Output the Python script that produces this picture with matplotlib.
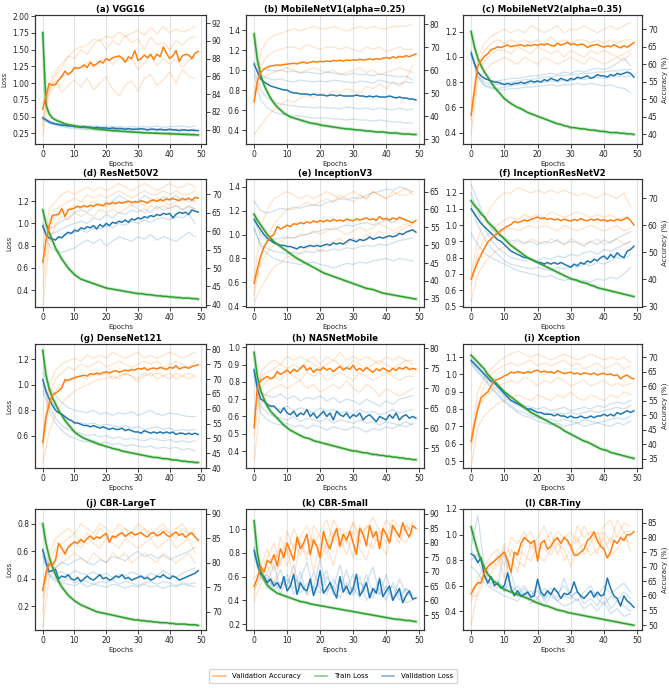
import numpy as np
import matplotlib.pyplot as plt
from matplotlib.lines import Line2D

ORANGE = '#ff7f0e'
GREEN = '#2ca02c'
BLUE = '#1f77b4'

# ---------------- (a) VGG16 ----------------
a_train = [1.75,0.68,0.54,0.48,0.45,0.43,0.41,0.39,0.38,0.37,0.36,0.35,0.345,0.34,0.335,0.33,0.32,0.315,0.31,0.305,
           0.30,0.295,0.29,0.287,0.284,0.28,0.277,0.274,0.27,0.267,0.264,0.26,0.258,0.256,0.254,0.252,0.25,0.248,0.246,0.244,
           0.242,0.24,0.238,0.236,0.234,0.232,0.23,0.228,0.226,0.225]
a_val_loss = [0.48,0.45,0.42,0.40,0.39,0.38,0.37,0.37,0.36,0.36,0.35,0.35,0.34,0.35,0.34,0.34,0.33,0.34,0.33,0.33,
              0.33,0.32,0.33,0.32,0.32,0.32,0.31,0.32,0.31,0.31,0.31,0.32,0.31,0.30,0.31,0.31,0.30,0.31,0.30,0.30,
              0.31,0.30,0.30,0.29,0.30,0.30,0.29,0.30,0.29,0.29]
a_val_acc = [82.3,83.8,85.2,85.0,85.1,85.6,86.0,86.6,86.2,86.5,87.0,86.9,87.0,87.3,87.0,87.6,87.2,87.4,87.7,87.5,
             88.0,87.8,88.1,88.2,88.3,88.1,87.6,88.2,88.0,88.9,87.8,88.0,88.4,88.1,88.5,87.9,88.5,88.2,89.3,88.6,
             88.0,88.3,88.9,87.7,88.3,88.5,88.4,88.0,88.6,88.8]
a_acc_runs = [
    [80.5,85.0,86.5,87.5,88.2,89.0,89.3,89.5,90.2,90.0,90.5,90.3,91.0,90.5,90.8,91.2,90.6,91.5,90.8,91.6,90.9,91.3,91.0,91.2,91.6],
    [81.0,84.5,86.0,87.0,88.3,88.0,89.0,88.5,89.6,90.2,89.0,90.0,89.5,90.6,89.8,90.2,89.0,90.4,89.6,89.8,89.0,90.0,89.5,90.2,90.5],
    [79.5,84.0,85.0,86.0,86.2,86.8,87.0,87.5,87.0,87.8,88.0,87.3,88.2,87.6,88.0,86.8,87.5,88.3,87.2,88.0,87.4,87.9,87.0,87.8,88.2],
    [83.0,84.5,85.5,84.2,85.0,85.6,84.8,85.8,84.5,85.2,86.0,84.6,83.8,85.0,85.5,84.3,85.8,86.2,85.0,85.6,86.5,85.2,86.8,86.0,85.8],
]
a_loss_runs = [
    [0.50,0.44,0.40,0.39,0.38,0.37,0.37,0.36,0.36,0.35,0.36,0.35,0.35,0.34,0.35,0.34,0.35,0.34,0.36,0.34,0.35,0.35,0.36,0.34,0.36],
    [0.47,0.41,0.38,0.36,0.35,0.34,0.33,0.33,0.32,0.32,0.32,0.31,0.31,0.31,0.30,0.31,0.30,0.30,0.30,0.29,0.30,0.29,0.29,0.29,0.30],
    [0.49,0.43,0.39,0.38,0.37,0.35,0.35,0.34,0.34,0.33,0.33,0.33,0.33,0.32,0.32,0.32,0.32,0.31,0.32,0.31,0.31,0.31,0.31,0.30,0.31],
    [0.46,0.40,0.37,0.35,0.33,0.32,0.31,0.30,0.30,0.29,0.29,0.28,0.28,0.27,0.27,0.27,0.26,0.26,0.26,0.25,0.26,0.25,0.25,0.25,0.25],
]

# ---------------- (b) MobileNetV1(alpha=0.25) ----------------
b_train = [1.36,1.10,0.95,0.85,0.78,0.72,0.67,0.63,0.60,0.57,0.55,0.53,0.52,0.51,0.50,0.49,0.48,0.47,0.465,0.46,
           0.45,0.445,0.44,0.435,0.43,0.425,0.42,0.415,0.41,0.41,0.405,0.40,0.40,0.395,0.39,0.39,0.385,0.38,0.38,0.38,
           0.375,0.37,0.37,0.37,0.365,0.36,0.36,0.36,0.355,0.355]
b_val_loss = [1.06,0.98,0.91,0.88,0.86,0.84,0.83,0.82,0.81,0.80,0.80,0.78,0.77,0.77,0.76,0.76,0.76,0.75,0.76,0.75,
              0.75,0.75,0.74,0.75,0.75,0.74,0.75,0.74,0.74,0.74,0.74,0.75,0.74,0.74,0.73,0.74,0.73,0.74,0.73,0.73,
              0.73,0.74,0.73,0.72,0.73,0.72,0.72,0.71,0.71,0.70]
b_val_acc = [46.3,55.0,59.0,60.5,61.3,61.8,62.0,62.3,62.0,62.5,62.6,62.8,63.0,62.7,63.2,63.5,63.0,63.4,63.8,63.5,
             63.8,63.6,64.0,63.7,64.2,64.0,64.3,63.9,64.4,64.2,64.5,64.3,64.7,64.4,64.6,64.9,64.5,65.0,64.7,65.2,
             65.5,65.0,65.8,65.3,66.0,65.6,66.3,65.8,66.5,67.0]
b_acc_runs = [
    [45,68,73,75,76,77,78,77,78,79,78,78,79,78,77,78,79,78,79,78,78,79,79,79,80],
    [50,62,66,68,69,70,70,69,71,70,69,70,70,69,70,69,68,70,69,70,68,69,70,69,69],
    [48,55,58,59,60,61,60,59,60,61,60,59,60,58,59,60,61,59,60,58,59,60,61,60,59],
    [32,36,40,43,45,47,46,48,49,48,50,49,51,50,52,51,50,53,52,54,52,55,53,56,62],
]
b_loss_runs = [
    [1.08,1.02,1.00,0.99,1.00,0.98,0.99,0.97,0.98,0.97,0.96,0.98,0.97,0.96,0.95,0.97,0.95,0.96,0.94,0.96,0.95,0.94,0.93,0.94,0.90],
    [1.05,0.95,0.92,0.90,0.91,0.89,0.88,0.90,0.89,0.88,0.89,0.88,0.90,0.89,0.88,0.87,0.89,0.88,0.87,0.90,0.88,0.87,0.86,0.88,0.87],
    [1.00,0.80,0.72,0.68,0.66,0.65,0.64,0.63,0.63,0.62,0.63,0.62,0.62,0.61,0.63,0.62,0.61,0.62,0.60,0.62,0.61,0.60,0.62,0.60,0.61],
    [0.95,0.70,0.62,0.58,0.56,0.55,0.54,0.54,0.53,0.52,0.52,0.52,0.51,0.51,0.50,0.51,0.50,0.50,0.49,0.50,0.49,0.48,0.48,0.47,0.47],
]

# ---------------- (c) MobileNetV2(alpha=0.35) ----------------
c_train = [1.20,1.08,0.99,0.93,0.88,0.84,0.80,0.76,0.73,0.70,0.67,0.65,0.63,0.615,0.60,0.59,0.575,0.56,0.55,0.54,
           0.53,0.52,0.51,0.50,0.49,0.48,0.47,0.465,0.455,0.45,0.44,0.44,0.435,0.43,0.43,0.425,0.42,0.42,0.415,0.41,
           0.41,0.405,0.40,0.40,0.40,0.395,0.395,0.39,0.39,0.385]
c_val_loss = [1.03,0.95,0.88,0.85,0.83,0.82,0.81,0.80,0.80,0.79,0.78,0.79,0.78,0.79,0.79,0.80,0.79,0.80,0.81,0.80,
              0.81,0.80,0.82,0.81,0.83,0.82,0.81,0.83,0.82,0.81,0.83,0.82,0.84,0.83,0.84,0.85,0.83,0.84,0.86,0.85,
              0.85,0.84,0.86,0.85,0.87,0.86,0.87,0.88,0.87,0.84]
c_val_acc = [45.5,52.5,59.5,61.0,62.3,63.0,64.2,64.5,65.0,64.8,65.2,65.5,65.0,65.3,65.4,65.6,65.2,65.5,65.3,65.7,
             65.4,65.8,65.5,65.9,65.4,65.2,66.0,65.5,65.8,66.3,65.6,65.9,65.4,65.8,65.6,64.8,65.3,65.5,65.7,65.2,
             64.9,65.3,65.0,65.6,65.1,64.7,65.3,64.9,65.5,66.2]
c_acc_runs = [
    [45,62,66,68,69,70,69,70,69,71,70,69,70,71,69,70,70,71,70,69,70,71,70,71,72],
    [48,60,64,66,67,66,67,66,67,66,67,66,68,66,67,66,67,67,66,67,66,67,66,67,67],
    [44,58,61,63,64,64,63,65,64,63,65,64,63,64,62,64,63,62,64,63,64,63,62,63,64],
    [40,55,58,60,61,62,61,60,62,61,60,62,61,60,61,62,61,60,62,61,60,61,62,61,63],
]
c_loss_runs = [
    [1.05,0.88,0.83,0.81,0.81,0.82,0.83,0.83,0.84,0.85,0.85,0.86,0.87,0.86,0.88,0.87,0.89,0.88,0.90,0.91,0.90,0.92,0.95,0.99,0.93],
    [1.02,0.86,0.80,0.78,0.78,0.79,0.80,0.81,0.82,0.82,0.83,0.84,0.84,0.85,0.85,0.86,0.86,0.87,0.87,0.88,0.88,0.89,0.89,0.90,0.90],
    [1.04,0.85,0.78,0.76,0.75,0.76,0.77,0.78,0.78,0.79,0.80,0.80,0.81,0.80,0.82,0.81,0.83,0.82,0.83,0.84,0.83,0.84,0.85,0.84,0.85],
    [1.01,0.84,0.77,0.75,0.74,0.74,0.75,0.75,0.76,0.76,0.77,0.77,0.78,0.77,0.78,0.78,0.79,0.78,0.79,0.78,0.77,0.78,0.76,0.75,0.72],
]

# ---------------- (d) ResNet50V2 ----------------
d_train = [1.12,1.00,0.92,0.85,0.78,0.73,0.68,0.64,0.60,0.57,0.54,0.52,0.50,0.49,0.48,0.47,0.46,0.45,0.44,0.43,
           0.42,0.415,0.41,0.405,0.40,0.395,0.39,0.385,0.38,0.375,0.37,0.37,0.365,0.36,0.36,0.355,0.35,0.35,0.345,0.345,
           0.34,0.34,0.335,0.335,0.33,0.33,0.33,0.325,0.325,0.32]
d_val_loss = [0.98,0.90,0.87,0.86,0.85,0.88,0.87,0.90,0.92,0.91,0.94,0.93,0.96,0.95,0.97,0.96,0.98,0.95,0.99,0.97,
              1.00,0.98,1.01,1.00,1.02,1.01,1.03,1.01,1.04,1.03,1.05,1.04,1.06,1.05,1.07,1.06,1.08,1.07,1.09,1.08,
              1.09,1.05,1.08,1.10,1.09,1.10,1.08,1.12,1.11,1.10]
d_val_acc = [51.6,57.5,61.3,64.2,64.5,64.6,66.2,64.0,65.8,66.0,66.3,66.8,66.5,67.0,66.6,67.0,66.8,67.3,67.1,66.9,
             67.6,67.4,67.8,67.5,67.9,67.6,67.9,68.2,67.8,68.1,67.9,68.3,68.0,67.7,68.3,68.5,68.1,68.6,68.3,68.8,
             68.5,68.9,68.6,68.3,68.9,68.6,69.0,68.4,69.2,69.0]
d_acc_runs = [
    [55,66,68,70,71,70,71,72,71,72,71,72,73,72,71,72,73,72,71,72,73,72,72,73,72],
    [50,63,66,67,68,69,68,70,69,70,69,70,71,70,69,70,71,70,70,71,70,71,70,70,71],
    [45,60,64,65,66,67,66,67,68,67,68,67,68,68,67,68,67,68,69,68,67,68,69,68,68],
    [40,56,62,64,63,65,64,65,64,66,65,66,65,66,67,66,65,67,66,67,66,67,66,67,66],
]
d_loss_runs = [
    [1.00,0.95,0.98,1.02,1.05,1.10,1.12,1.10,1.15,1.18,1.15,1.20,1.25,1.22,1.18,1.20,1.25,1.22,1.20,1.24,1.22,1.25,1.20,1.22,1.20],
    [0.98,0.90,0.92,0.95,0.98,1.00,1.02,1.00,1.05,1.03,1.08,1.05,1.10,1.08,1.12,1.10,1.13,1.10,1.15,1.12,1.14,1.16,1.12,1.15,1.13],
    [0.97,0.85,0.86,0.88,0.90,0.92,0.94,0.92,0.96,0.95,0.98,0.96,1.00,0.98,1.02,1.00,1.03,1.01,1.04,1.05,1.03,1.06,1.05,1.08,1.00],
    [0.96,0.80,0.75,0.74,0.76,0.78,0.82,0.85,0.82,0.86,0.80,0.84,0.88,0.86,0.84,0.88,0.86,0.90,0.85,0.88,0.86,0.84,0.88,0.92,0.88],
]

# ---------------- (e) InceptionV3 ----------------
e_train = [1.17,1.12,1.08,1.04,1.00,0.97,0.94,0.92,0.90,0.88,0.86,0.84,0.82,0.80,0.785,0.77,0.755,0.74,0.725,0.71,
           0.695,0.68,0.67,0.66,0.65,0.64,0.63,0.62,0.61,0.60,0.59,0.58,0.57,0.56,0.55,0.545,0.54,0.53,0.52,0.51,
           0.505,0.50,0.495,0.49,0.485,0.48,0.475,0.47,0.465,0.46]
e_val_loss = [1.13,1.08,1.04,1.00,0.97,0.95,0.93,0.92,0.91,0.91,0.90,0.90,0.89,0.88,0.90,0.89,0.90,0.91,0.90,0.91,
              0.90,0.91,0.92,0.91,0.93,0.92,0.93,0.92,0.94,0.96,0.95,0.94,0.96,0.95,0.96,0.98,0.96,0.97,0.98,0.97,
              0.98,0.99,0.98,0.99,1.01,1.00,1.02,1.03,1.04,1.02]
e_val_acc = [39.3,43.5,47.0,49.5,51.0,52.3,53.0,55.2,54.5,55.0,55.6,55.2,56.0,55.8,56.3,56.0,56.5,56.2,56.8,56.4,
             56.9,56.5,57.0,56.6,57.2,56.8,57.0,56.7,57.3,57.0,56.8,57.4,57.0,57.3,57.6,57.1,57.4,56.9,58.0,57.2,
             57.5,57.0,57.6,57.2,57.8,57.4,57.0,56.6,56.3,56.9]
e_acc_runs = [
    [40,55,60,63,64,65,64,63,64,63,64,65,64,63,64,65,64,63,65,64,63,65,64,64,65],
    [36,46,52,56,58,60,60,61,62,61,62,63,62,64,63,62,64,63,65,64,63,64,65,66,64],
    [38,45,48,50,51,52,52,53,53,54,53,54,55,54,53,54,55,54,55,56,55,54,55,56,55],
    [34,38,41,44,45,47,46,48,49,50,48,50,51,52,50,52,51,53,52,54,52,53,54,55,56],
]
e_loss_runs = [
    [1.28,1.20,1.18,1.20,1.22,1.21,1.23,1.22,1.24,1.25,1.24,1.27,1.28,1.30,1.29,1.31,1.30,1.33,1.35,1.36,1.38,1.37,1.40,1.38,1.36],
    [1.12,1.00,0.95,0.96,0.97,0.98,0.97,0.99,1.00,1.02,1.03,1.05,1.04,1.06,1.08,1.07,1.09,1.10,1.08,1.10,1.12,1.10,1.13,1.12,1.10],
    [1.06,0.92,0.88,0.86,0.85,0.84,0.85,0.84,0.86,0.85,0.87,0.86,0.88,0.87,0.89,0.88,0.90,0.91,0.90,0.92,0.91,0.93,0.95,0.96,0.97],
    [1.05,0.90,0.84,0.80,0.78,0.77,0.76,0.75,0.76,0.77,0.75,0.74,0.72,0.74,0.76,0.75,0.77,0.76,0.78,0.79,0.80,0.78,0.80,0.79,0.78],
]

# ---------------- (f) InceptionResNetV2 ----------------
f_train = [1.15,1.12,1.10,1.07,1.05,1.02,1.00,0.98,0.955,0.935,0.915,0.895,0.875,0.86,0.845,0.83,0.815,0.80,0.79,0.78,
           0.77,0.76,0.75,0.74,0.73,0.72,0.71,0.70,0.69,0.68,0.67,0.665,0.66,0.65,0.645,0.64,0.63,0.625,0.615,0.61,
           0.605,0.60,0.595,0.59,0.585,0.58,0.575,0.57,0.565,0.56]
f_val_loss = [1.10,1.07,1.04,1.01,0.99,0.97,0.95,0.93,0.91,0.90,0.88,0.86,0.84,0.83,0.82,0.81,0.80,0.80,0.79,0.78,
              0.77,0.77,0.76,0.77,0.76,0.77,0.76,0.77,0.76,0.75,0.74,0.76,0.75,0.77,0.76,0.78,0.77,0.79,0.78,0.80,
              0.81,0.79,0.82,0.80,0.83,0.81,0.80,0.84,0.85,0.87]
f_val_acc = [40.1,43.5,46.5,49.0,51.5,53.8,55.0,56.3,57.0,58.2,59.0,59.8,60.3,61.5,61.0,61.4,62.0,61.6,62.3,62.6,
             63.1,62.5,62.8,62.2,62.6,62.0,62.4,61.8,62.3,61.9,61.6,62.2,61.8,62.5,62.0,61.7,62.3,61.9,62.4,61.8,
             62.1,61.5,62.0,61.6,62.3,61.8,62.2,63.0,61.8,60.2]
f_acc_runs = [
    [42,55,62,67,70,72,72,74,73,72,73,72,73,72,73,72,71,72,71,70,72,71,70,72,67],
    [40,50,55,58,60,62,63,62,64,63,64,63,65,64,63,64,65,64,63,64,63,64,62,63,62],
    [38,48,52,55,57,58,59,58,59,60,59,60,59,58,60,59,58,59,60,59,58,59,60,58,59],
    [32,42,46,49,51,52,53,54,53,55,54,53,55,54,53,55,54,53,54,55,53,54,55,53,54],
]
f_loss_runs = [
    [1.25,1.15,1.05,0.98,0.94,0.92,0.90,0.91,0.89,0.90,0.88,0.90,0.89,0.91,0.88,0.90,0.89,0.87,0.90,0.88,0.91,0.89,0.92,0.94,0.96],
    [1.20,1.08,0.98,0.91,0.86,0.83,0.80,0.79,0.78,0.79,0.78,0.80,0.79,0.81,0.80,0.82,0.81,0.83,0.84,0.82,0.85,0.84,0.86,0.88,0.90],
    [1.12,1.00,0.92,0.86,0.82,0.78,0.76,0.75,0.74,0.73,0.74,0.73,0.72,0.74,0.73,0.75,0.74,0.76,0.75,0.77,0.76,0.78,0.80,0.79,0.82],
    [0.95,0.88,0.83,0.80,0.78,0.76,0.74,0.72,0.71,0.70,0.69,0.68,0.69,0.67,0.66,0.67,0.65,0.66,0.65,0.67,0.66,0.68,0.67,0.70,0.74],
]

# ---------------- (g) DenseNet121 ----------------
g_train = [1.27,1.08,0.97,0.90,0.85,0.80,0.76,0.72,0.69,0.66,0.63,0.61,0.595,0.58,0.57,0.56,0.55,0.54,0.53,0.525,
           0.515,0.51,0.50,0.495,0.49,0.48,0.475,0.47,0.465,0.46,0.455,0.45,0.445,0.44,0.435,0.43,0.43,0.425,0.42,0.42,
           0.415,0.41,0.41,0.405,0.40,0.40,0.395,0.395,0.39,0.39]
g_val_loss = [1.04,0.95,0.89,0.84,0.80,0.78,0.77,0.75,0.73,0.72,0.70,0.70,0.69,0.68,0.68,0.67,0.68,0.67,0.66,0.67,
              0.66,0.65,0.66,0.65,0.65,0.66,0.64,0.65,0.64,0.63,0.63,0.62,0.64,0.63,0.62,0.63,0.62,0.63,0.62,0.63,
              0.62,0.63,0.61,0.62,0.62,0.61,0.62,0.61,0.62,0.61]
g_val_acc = [48.7,57.0,61.5,64.5,65.2,66.0,67.0,69.8,69.5,70.0,70.5,70.8,71.0,71.3,71.0,71.8,71.5,72.0,71.7,72.2,
             72.4,72.0,72.5,72.8,72.3,72.6,73.0,72.7,73.2,73.0,73.6,73.3,73.8,73.0,73.5,73.7,73.4,73.9,73.6,73.2,
             74.0,73.6,74.5,73.4,73.8,74.0,73.6,74.2,74.5,74.8]
g_acc_runs = [
    [50,68,73,75,76,77,76,78,77,78,77,79,78,77,78,79,77,78,77,78,79,78,77,78,79],
    [48,64,70,72,74,73,75,74,75,76,74,75,76,75,74,75,76,75,76,74,75,76,75,74,76],
    [47,60,66,68,70,70,71,70,72,71,72,70,71,72,71,69,71,72,70,71,70,72,71,70,71],
    [42,52,58,62,64,66,67,68,69,70,70,71,70,72,71,70,72,71,72,71,72,70,71,72,71],
]
g_loss_runs = [
    [1.10,0.98,0.92,0.86,0.82,0.80,0.79,0.78,0.80,0.77,0.78,0.76,0.78,0.77,0.79,0.76,0.78,0.80,0.77,0.76,0.78,0.77,0.76,0.75,0.75],
    [1.05,0.90,0.82,0.76,0.73,0.71,0.70,0.69,0.70,0.68,0.69,0.68,0.67,0.68,0.66,0.67,0.65,0.66,0.67,0.65,0.66,0.64,0.65,0.64,0.65],
    [1.00,0.84,0.74,0.68,0.65,0.63,0.62,0.60,0.61,0.59,0.60,0.58,0.59,0.57,0.58,0.57,0.56,0.58,0.57,0.56,0.57,0.55,0.56,0.55,0.56],
    [0.96,0.80,0.70,0.64,0.60,0.58,0.56,0.55,0.56,0.54,0.55,0.53,0.54,0.52,0.53,0.52,0.51,0.52,0.50,0.51,0.50,0.51,0.49,0.50,0.48],
]

# ---------------- (h) NASNetMobile ----------------
h_train = [0.97,0.83,0.75,0.70,0.66,0.63,0.61,0.59,0.57,0.55,0.535,0.52,0.51,0.50,0.49,0.48,0.475,0.47,0.46,0.455,
           0.45,0.445,0.44,0.435,0.43,0.425,0.42,0.415,0.41,0.405,0.40,0.40,0.395,0.39,0.39,0.385,0.38,0.38,0.375,0.375,
           0.37,0.37,0.365,0.365,0.36,0.36,0.355,0.355,0.35,0.35]
h_val_loss = [0.87,0.76,0.70,0.69,0.67,0.66,0.66,0.64,0.62,0.65,0.62,0.61,0.63,0.60,0.62,0.61,0.64,0.60,0.62,0.59,
              0.61,0.63,0.60,0.62,0.58,0.63,0.61,0.60,0.62,0.59,0.61,0.60,0.62,0.58,0.60,0.61,0.59,0.57,0.60,0.59,
              0.58,0.61,0.59,0.62,0.58,0.60,0.61,0.59,0.60,0.59]
h_val_acc = [60.2,70.4,72.0,72.5,73.0,72.4,72.8,74.2,73.5,74.0,74.6,73.8,74.8,74.2,75.0,75.8,74.5,75.2,74.0,74.8,
             74.5,75.3,74.6,75.0,74.2,74.9,75.5,74.6,75.2,74.8,75.8,74.5,75.0,74.3,75.2,74.6,74.0,74.9,74.4,75.1,
             74.6,74.2,75.0,74.5,75.2,74.8,75.4,74.7,75.0,74.8]
h_acc_runs = [
    [62,74,76,77,76,78,77,78,77,78,76,78,77,79,77,78,77,78,77,76,78,77,78,77,77],
    [60,73,74,75,76,75,76,75,77,76,75,76,77,76,75,77,76,75,76,77,76,75,76,77,76],
    [58,70,72,73,72,74,73,72,74,73,74,72,73,74,73,72,74,73,72,73,74,73,72,73,73],
    [52,66,69,70,71,70,71,72,70,71,69,70,71,70,72,70,69,71,70,68,70,69,68,69,70],
]
h_loss_runs = [
    [0.85,0.74,0.72,0.71,0.73,0.70,0.72,0.69,0.71,0.70,0.72,0.69,0.71,0.68,0.70,0.69,0.67,0.70,0.68,0.66,0.69,0.67,0.70,0.71,0.72],
    [0.88,0.70,0.66,0.65,0.64,0.66,0.63,0.65,0.64,0.62,0.65,0.63,0.64,0.62,0.63,0.61,0.64,0.62,0.63,0.61,0.62,0.64,0.62,0.63,0.64],
    [0.86,0.66,0.62,0.60,0.59,0.58,0.60,0.57,0.59,0.58,0.57,0.59,0.56,0.58,0.57,0.56,0.58,0.56,0.57,0.55,0.57,0.56,0.55,0.57,0.55],
    [0.84,0.62,0.58,0.56,0.55,0.56,0.54,0.55,0.53,0.55,0.54,0.52,0.54,0.53,0.52,0.54,0.53,0.51,0.53,0.52,0.54,0.53,0.55,0.54,0.56],
]

# ---------------- (i) Xception ----------------
i_train = [1.11,1.09,1.07,1.05,1.03,1.00,0.98,0.96,0.94,0.92,0.90,0.885,0.87,0.855,0.84,0.825,0.81,0.795,0.78,0.77,
           0.76,0.75,0.74,0.73,0.72,0.71,0.70,0.69,0.675,0.665,0.655,0.645,0.635,0.625,0.615,0.61,0.60,0.59,0.58,0.57,
           0.565,0.56,0.55,0.545,0.54,0.535,0.53,0.525,0.52,0.515]
i_val_loss = [1.08,1.06,1.04,1.02,1.00,0.98,0.96,0.95,0.93,0.91,0.89,0.87,0.85,0.84,0.83,0.82,0.81,0.80,0.80,0.79,
              0.78,0.78,0.77,0.77,0.77,0.76,0.77,0.76,0.76,0.75,0.76,0.75,0.75,0.76,0.75,0.75,0.76,0.75,0.76,0.76,
              0.77,0.76,0.77,0.76,0.78,0.77,0.78,0.79,0.78,0.79]
i_val_acc = [41.0,47.0,52.0,56.0,57.0,58.0,60.0,62.0,62.3,62.8,63.5,64.0,64.8,64.5,65.0,64.7,64.4,65.0,64.6,65.2,
             65.5,64.8,65.2,64.7,65.0,64.4,65.3,64.8,64.3,64.6,64.8,64.2,64.5,64.0,64.6,64.3,64.0,64.5,63.8,64.2,
             64.4,63.9,64.2,63.6,63.9,62.5,63.4,63.8,62.9,62.5]
i_acc_runs = [
    [42,58,63,66,68,70,71,72,71,70,71,70,69,70,71,70,69,70,71,70,69,70,69,70,68],
    [40,54,60,64,66,67,68,67,68,69,67,68,67,68,69,67,68,66,67,68,66,67,68,66,67],
    [38,52,56,58,60,61,62,61,63,62,60,62,61,63,62,60,61,62,60,61,62,60,61,60,61],
    [32,46,50,52,54,55,56,57,56,55,57,56,55,57,56,58,56,55,57,56,55,57,56,58,57],
]
i_loss_runs = [
    [1.09,1.05,1.01,0.97,0.93,0.88,0.85,0.83,0.82,0.81,0.80,0.81,0.79,0.80,0.81,0.79,0.80,0.81,0.80,0.82,0.81,0.83,0.84,0.83,0.85],
    [1.08,1.04,0.99,0.95,0.91,0.87,0.84,0.82,0.80,0.79,0.78,0.78,0.77,0.78,0.77,0.78,0.77,0.78,0.79,0.78,0.79,0.80,0.81,0.80,0.82],
    [1.07,1.02,0.98,0.93,0.89,0.85,0.82,0.79,0.78,0.76,0.75,0.74,0.74,0.73,0.74,0.73,0.72,0.74,0.73,0.72,0.73,0.74,0.75,0.74,0.76],
    [1.06,1.01,0.97,0.92,0.88,0.84,0.81,0.78,0.76,0.75,0.73,0.72,0.71,0.72,0.70,0.71,0.72,0.70,0.71,0.72,0.71,0.70,0.72,0.71,0.73],
]

# ---------------- (j) CBR-LargeT ----------------
j_train = [0.80,0.66,0.56,0.49,0.43,0.38,0.34,0.31,0.28,0.26,0.24,0.225,0.21,0.20,0.19,0.18,0.17,0.16,0.155,0.15,
           0.145,0.14,0.135,0.13,0.125,0.12,0.115,0.11,0.105,0.10,0.10,0.095,0.095,0.09,0.09,0.085,0.085,0.08,0.08,0.08,
           0.075,0.075,0.07,0.07,0.07,0.07,0.065,0.065,0.065,0.06]
j_val_loss = [0.61,0.52,0.45,0.46,0.47,0.40,0.42,0.41,0.43,0.40,0.39,0.41,0.38,0.40,0.42,0.40,0.39,0.41,0.43,0.40,
              0.41,0.39,0.40,0.42,0.41,0.43,0.40,0.41,0.39,0.40,0.41,0.42,0.40,0.41,0.39,0.40,0.42,0.41,0.43,0.41,
              0.40,0.42,0.41,0.39,0.40,0.41,0.42,0.43,0.44,0.46]
j_val_acc = [74.4,78.1,79.8,79.5,80.5,84.0,83.0,81.8,83.2,83.8,84.3,84.0,84.8,84.2,85.0,85.5,84.8,85.3,85.0,85.6,
             86.0,84.2,85.5,85.2,85.8,86.1,85.4,85.9,86.3,85.7,85.9,86.2,85.6,85.3,86.0,86.2,85.5,85.8,86.4,85.7,
             85.3,85.9,86.3,85.6,86.0,85.2,85.8,86.1,85.3,84.6]
j_acc_runs = [
    [70,82,85,86,87,86,88,87,86,88,87,86,88,87,86,88,87,86,87,88,86,87,88,86,87],
    [73,80,83,84,85,86,84,86,85,87,86,85,86,87,85,86,87,85,86,87,86,85,87,86,86],
    [75,79,81,82,83,84,83,85,84,83,85,84,83,85,84,83,84,85,83,84,85,83,84,85,82],
    [67,77,79,80,81,82,81,80,82,81,80,82,81,82,80,81,82,81,80,82,81,80,81,82,80],
]
j_loss_runs = [
    [0.62,0.50,0.48,0.52,0.50,0.53,0.55,0.52,0.50,0.54,0.52,0.56,0.55,0.53,0.57,0.60,0.56,0.58,0.55,0.57,0.54,0.56,0.58,0.60,0.63],
    [0.60,0.47,0.44,0.45,0.42,0.46,0.44,0.43,0.45,0.42,0.44,0.41,0.43,0.42,0.45,0.43,0.41,0.44,0.42,0.46,0.43,0.41,0.44,0.46,0.48],
    [0.58,0.43,0.40,0.38,0.40,0.37,0.39,0.38,0.36,0.38,0.37,0.39,0.36,0.38,0.37,0.35,0.37,0.38,0.36,0.38,0.37,0.35,0.37,0.36,0.37],
    [0.56,0.42,0.38,0.37,0.36,0.35,0.37,0.34,0.36,0.35,0.34,0.36,0.35,0.33,0.35,0.34,0.36,0.34,0.35,0.33,0.35,0.34,0.36,0.35,0.34],
]

# ---------------- (k) CBR-Small ----------------
k_train = [1.07,0.80,0.65,0.58,0.53,0.50,0.48,0.46,0.45,0.44,0.43,0.42,0.41,0.40,0.39,0.385,0.38,0.37,0.365,0.36,
           0.355,0.35,0.345,0.34,0.335,0.33,0.325,0.32,0.315,0.31,0.305,0.30,0.295,0.29,0.285,0.28,0.275,0.27,0.265,0.26,
           0.255,0.25,0.245,0.24,0.24,0.235,0.23,0.23,0.225,0.22]
k_val_loss = [0.82,0.70,0.62,0.60,0.55,0.58,0.52,0.55,0.50,0.60,0.48,0.52,0.62,0.45,0.55,0.50,0.48,0.58,0.44,0.52,
              0.65,0.46,0.50,0.55,0.48,0.42,0.60,0.47,0.52,0.45,0.50,0.62,0.44,0.48,0.55,0.42,0.50,0.46,0.58,0.43,
              0.48,0.52,0.40,0.45,0.50,0.38,0.44,0.48,0.41,0.42]
k_val_acc = [65.0,68.0,72.0,70.0,74.0,73.0,76.0,72.0,78.0,75.0,80.0,77.0,74.0,82.0,78.0,80.0,83.0,76.0,81.0,79.0,
             75.0,84.0,80.0,78.0,82.0,85.0,79.0,83.0,81.0,84.0,80.0,76.0,85.0,83.0,79.0,86.0,82.0,84.0,78.0,85.0,
             83.0,80.0,86.0,84.0,82.0,87.0,84.0,82.0,86.0,85.0]
k_acc_runs = [
    [62,72,78,70,82,76,85,80,74,86,82,78,88,84,80,87,83,85,89,84,82,88,86,84,87],
    [68,70,75,80,72,84,78,82,86,79,84,88,80,85,83,87,80,86,84,82,88,85,83,86,84],
    [60,66,70,74,78,72,80,76,82,70,80,76,84,78,82,75,86,80,78,84,80,86,82,80,85],
    [64,68,72,66,74,78,68,80,76,82,74,80,72,82,76,84,78,74,82,80,76,84,80,86,83],
]
k_loss_runs = [
    [0.85,0.60,0.55,0.70,0.50,0.62,0.45,0.58,0.72,0.48,0.55,0.65,0.44,0.58,0.50,0.62,0.46,0.55,0.68,0.45,0.52,0.40,0.58,0.46,0.44],
    [0.80,0.65,0.58,0.52,0.66,0.48,0.60,0.52,0.46,0.64,0.50,0.45,0.58,0.48,0.66,0.44,0.55,0.48,0.42,0.60,0.46,0.52,0.40,0.50,0.42],
    [0.78,0.58,0.62,0.48,0.55,0.52,0.70,0.46,0.54,0.50,0.75,0.48,0.52,0.42,0.55,0.47,0.60,0.40,0.50,0.45,0.62,0.42,0.48,0.38,0.40],
    [0.84,0.62,0.50,0.56,0.46,0.58,0.50,0.64,0.44,0.52,0.46,0.60,0.50,0.70,0.45,0.52,0.42,0.62,0.46,0.50,0.40,0.55,0.44,0.50,0.46],
]

# ---------------- (l) CBR-Tiny ----------------
l_train = [1.06,0.96,0.87,0.80,0.74,0.69,0.66,0.63,0.61,0.59,0.57,0.56,0.55,0.54,0.53,0.52,0.51,0.50,0.49,0.475,
           0.465,0.455,0.445,0.44,0.43,0.42,0.41,0.405,0.40,0.39,0.385,0.38,0.375,0.37,0.365,0.36,0.355,0.35,0.345,0.34,
           0.335,0.33,0.325,0.32,0.315,0.31,0.305,0.30,0.295,0.29]
l_val_loss = [0.85,0.83,0.78,0.82,0.68,0.62,0.67,0.60,0.62,0.58,0.60,0.70,0.58,0.52,0.56,0.52,0.53,0.55,0.51,0.52,
              0.65,0.55,0.52,0.56,0.53,0.58,0.55,0.50,0.54,0.53,0.55,0.63,0.55,0.52,0.50,0.53,0.56,0.51,0.55,0.52,
              0.53,0.66,0.58,0.52,0.50,0.44,0.52,0.48,0.46,0.43]
l_val_acc = [60.7,63.0,64.5,64.5,68.0,70.0,71.0,72.0,73.0,74.0,75.0,72.0,68.0,75.0,74.0,78.0,80.0,79.0,78.0,79.0,
             72.0,78.0,79.0,76.0,77.0,79.0,80.0,78.0,80.0,79.0,77.0,74.0,74.0,75.0,76.0,79.0,80.0,82.0,79.0,77.0,
             76.0,73.0,75.0,79.0,78.0,80.0,79.0,81.0,81.0,82.0]
l_acc_runs = [
    [58,66,70,74,76,70,80,78,82,76,80,84,78,82,80,76,84,80,82,78,84,86,80,85,84],
    [50,62,68,72,70,78,74,68,80,82,76,78,82,74,80,82,78,84,80,74,82,78,86,82,82],
    [62,64,68,70,74,66,76,72,70,78,74,72,76,80,72,76,80,74,78,82,76,80,78,82,75],
    [60,60,66,68,72,74,70,76,74,72,78,76,74,78,76,70,76,78,74,76,80,74,76,80,78],
]
l_loss_runs = [
    [0.90,1.15,0.75,0.65,0.62,0.55,0.70,0.52,0.58,0.50,0.62,0.48,0.55,0.50,0.66,0.52,0.48,0.55,0.60,0.50,0.45,0.52,0.48,0.55,0.50],
    [0.80,0.85,0.70,0.60,0.58,0.90,0.55,0.60,0.52,0.56,0.50,0.58,0.54,0.48,0.52,0.50,0.56,0.46,0.50,0.44,0.54,0.42,0.48,0.44,0.40],
    [0.75,0.70,0.62,0.58,0.55,0.52,0.50,0.48,0.55,0.46,0.50,0.44,0.52,0.48,0.44,0.46,0.50,0.42,0.46,0.40,0.48,0.38,0.42,0.36,0.38],
    [0.88,0.80,0.66,0.62,0.64,0.58,0.60,0.55,0.60,0.52,0.56,0.50,0.58,0.54,0.60,0.52,0.55,0.50,0.56,0.52,0.60,0.54,0.58,0.62,0.55],
]

titles = ['(a) VGG16', '(b) MobileNetV1(alpha=0.25)', '(c) MobileNetV2(alpha=0.35)',
          '(d) ResNet50V2', '(e) InceptionV3', '(f) InceptionResNetV2',
          '(g) DenseNet121', '(h) NASNetMobile', '(i) Xception',
          '(j) CBR-LargeT', '(k) CBR-Small', '(l) CBR-Tiny']
train_loss = [a_train, b_train, c_train, d_train, e_train, f_train, g_train, h_train, i_train, j_train, k_train, l_train]
val_loss = [a_val_loss, b_val_loss, c_val_loss, d_val_loss, e_val_loss, f_val_loss,
            g_val_loss, h_val_loss, i_val_loss, j_val_loss, k_val_loss, l_val_loss]
val_acc = [a_val_acc, b_val_acc, c_val_acc, d_val_acc, e_val_acc, f_val_acc,
           g_val_acc, h_val_acc, i_val_acc, j_val_acc, k_val_acc, l_val_acc]
acc_runs = [a_acc_runs, b_acc_runs, c_acc_runs, d_acc_runs, e_acc_runs, f_acc_runs,
            g_acc_runs, h_acc_runs, i_acc_runs, j_acc_runs, k_acc_runs, l_acc_runs]
loss_runs = [a_loss_runs, b_loss_runs, c_loss_runs, d_loss_runs, e_loss_runs, f_loss_runs,
             g_loss_runs, h_loss_runs, i_loss_runs, j_loss_runs, k_loss_runs, l_loss_runs]

# axis ranges and ticks (left = loss, right = accuracy)
loss_lims = [(0.09, 2.015), (0.26, 1.55), (0.31, 1.332), (0.25, 1.398), (0.394, 1.465), (0.496, 1.284),
             (0.347, 1.32), (0.302, 1.019), (0.46, 1.175), (0.027, 0.908), (0.15, 1.17), (0.253, 1.2)]
acc_lims = [(78.4, 92.9), (28.0, 83.9), (37.2, 74.1), (39.4, 74.2), (32.7, 68.5), (29.75, 77.2),
            (40.3, 81.8), (50.1, 81.1), (31.8, 74.5), (66.3, 91.0), (50.0, 91.7), (48.3, 89.8)]
loss_ticks = [np.arange(0.25, 2.01, 0.25), np.arange(0.4, 1.41, 0.2), np.arange(0.4, 1.21, 0.2),
              np.arange(0.4, 1.21, 0.2), np.arange(0.4, 1.41, 0.2), np.arange(0.5, 1.21, 0.1),
              np.arange(0.6, 1.21, 0.2), np.arange(0.4, 1.01, 0.1), np.arange(0.5, 1.11, 0.1),
              np.arange(0.2, 0.81, 0.2), np.arange(0.2, 1.01, 0.2), np.arange(0.4, 1.21, 0.2)]
acc_ticks = [np.arange(80, 93, 2), np.arange(30, 81, 10), np.arange(40, 71, 5),
             np.arange(40, 71, 5), np.arange(35, 66, 5), np.arange(30, 71, 10),
             np.arange(40, 81, 5), np.arange(55, 81, 5), np.arange(35, 71, 5),
             np.arange(70, 91, 5), np.arange(55, 91, 5), np.arange(50, 86, 5)]

W, H = 669, 688
fig = plt.figure(figsize=(W / 100, H / 100), dpi=100)

col_left = [35, 246, 463]
col_width = [171, 178, 179]
row_top = [15, 179, 344, 509]
row_height = [129, 128, 124, 121]

tick_color = '#262626'
FS = 5.5       # tick labels
LFS = 5.0      # axis labels

for n in range(12):
    r, c = divmod(n, 3)
    rect = [col_left[c] / W, 1 - (row_top[r] + row_height[r]) / H, col_width[c] / W, row_height[r] / H]
    ax = fig.add_axes(rect)
    ax2 = ax.twinx()

    # validation loss runs + mean, train loss
    for run in loss_runs[n]:
        ax.plot(np.arange(len(run)) * 2, run, color=BLUE, alpha=0.22, lw=0.9)
    ep = np.arange(len(train_loss[n]))
    ax.plot(ep, train_loss[n], color=GREEN, alpha=0.25, lw=2.4)
    ax.plot(np.arange(len(val_loss[n])), val_loss[n], color=BLUE, lw=1.1)
    ax.plot(ep, train_loss[n], color=GREEN, lw=1.1)

    # validation accuracy runs + mean
    for run in acc_runs[n]:
        ax2.plot(np.arange(len(run)) * 2, run, color=ORANGE, alpha=0.22, lw=0.9)
    ax2.plot(np.arange(len(val_acc[n])), val_acc[n], color=ORANGE, lw=1.1)

    ax.set_xlim(-2.45, 51.45)
    ax.set_xticks([0, 10, 20, 30, 40, 50])
    ax.set_ylim(*loss_lims[n])
    ax.set_yticks(loss_ticks[n])
    ax2.set_ylim(*acc_lims[n])
    ax2.set_yticks(acc_ticks[n])
    fmt = '%.2f' if n == 0 else '%.1f'
    ax.yaxis.set_major_formatter(plt.FormatStrFormatter(fmt))
    ax2.yaxis.set_major_formatter(plt.FormatStrFormatter('%d'))

    ax.xaxis.grid(True, color='#e3e3e3', lw=0.8)
    ax.set_axisbelow(True)

    for a in (ax, ax2):
        a.tick_params(labelsize=FS, length=2.8, width=0.6, colors=tick_color, pad=1.5)
        for s in a.spines.values():
            s.set_linewidth(0.8)
            s.set_color('#333333')

    ax.set_title(titles[n], fontsize=6.1, fontweight='bold', pad=2.5)
    ax.set_xlabel('Epochs', fontsize=LFS, color=tick_color, labelpad=1.5)
    if c == 0:
        ax.set_ylabel('Loss', fontsize=LFS, color=tick_color, labelpad=3)
    if c == 2:
        ax2.set_ylabel('Accuracy (%)', fontsize=LFS, color=tick_color, labelpad=3)

handles = [Line2D([], [], color=ORANGE, lw=1.1, alpha=0.6),
           Line2D([], [], color=GREEN, lw=1.1, alpha=0.6),
           Line2D([], [], color=BLUE, lw=1.1, alpha=0.6)]
fig.legend(handles, ['Validation Accuracy', 'Train Loss', 'Validation Loss'],
           loc='center', bbox_to_anchor=(333 / W, 1 - 676 / H), ncol=3, fontsize=5.0,
           frameon=True, handlelength=1.8, columnspacing=2.0, handletextpad=0.9, borderpad=0.6)

fig.savefig('out.png', dpi=100)
